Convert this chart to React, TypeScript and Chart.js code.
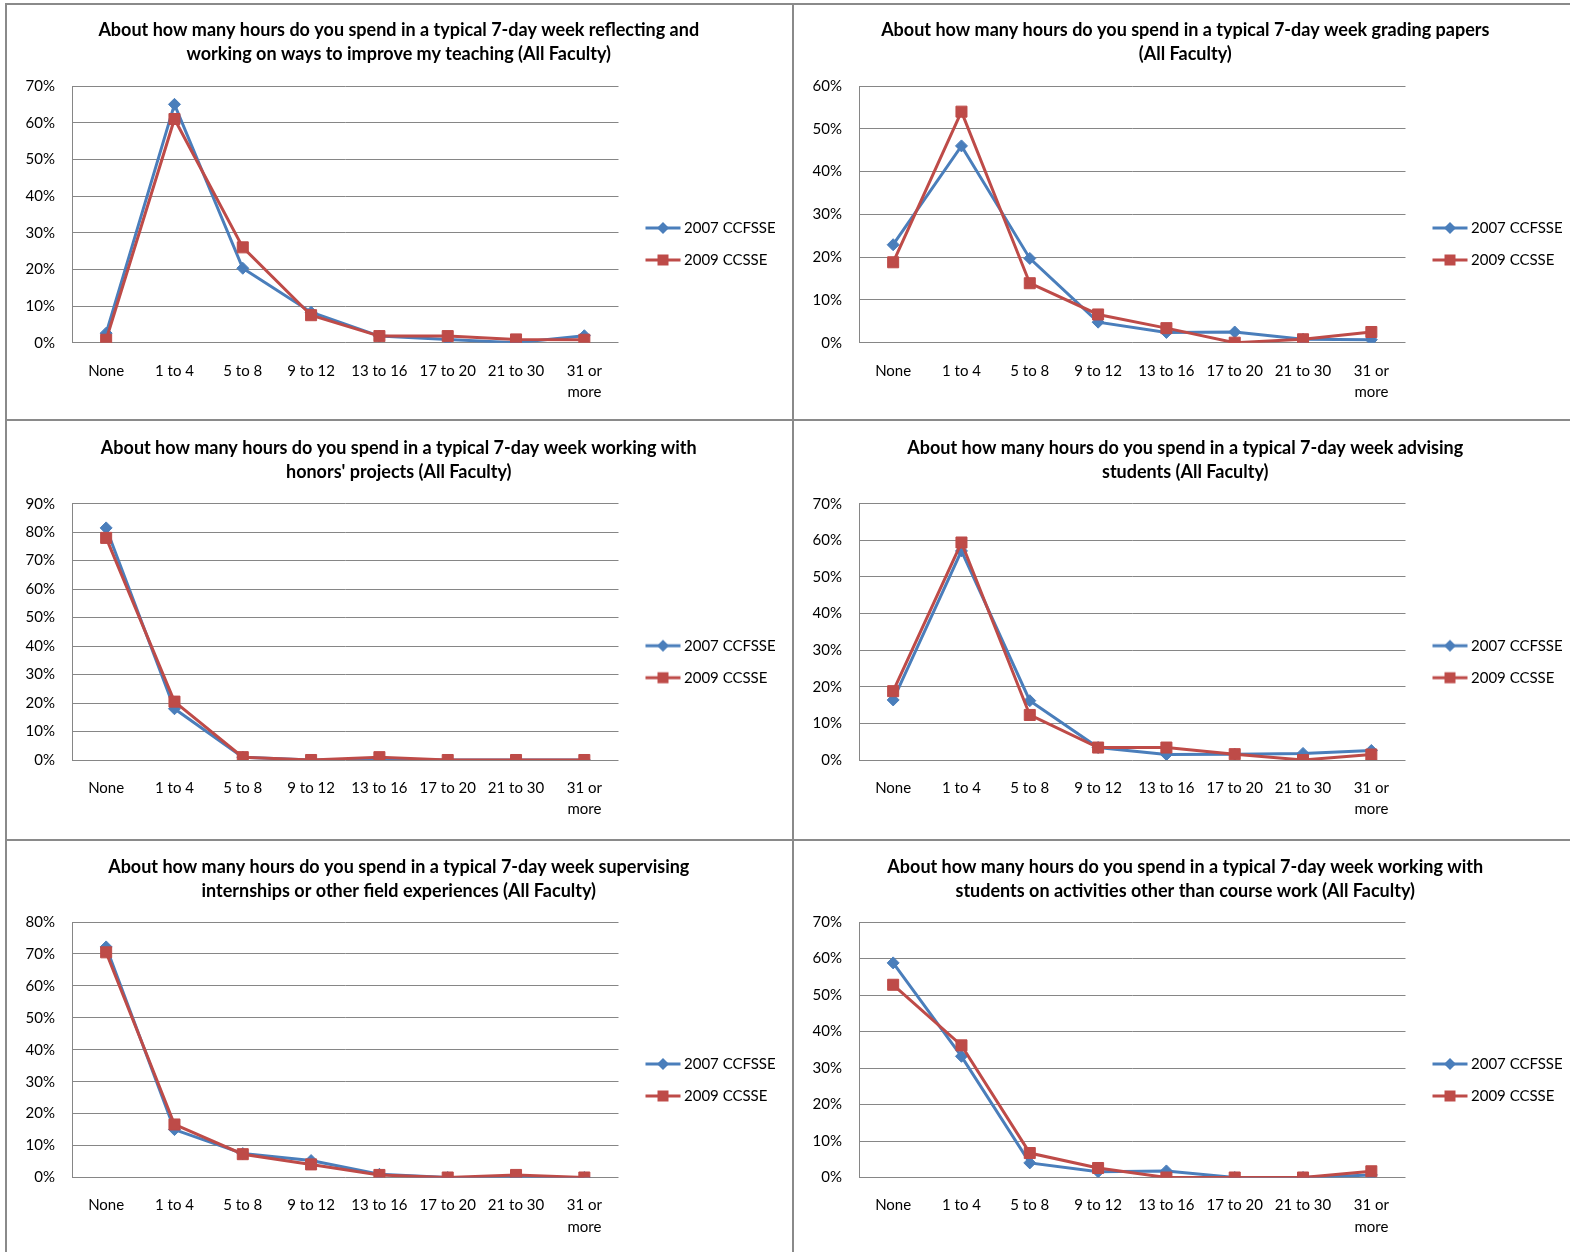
import React, { useEffect, useMemo, useRef } from 'react';
import { Chart, registerables } from 'chart.js';

Chart.register(...registerables);

// ---------- data ----------
const CATEGORIES: (string | string[])[] = ['None', '1 to 4', '5 to 8', '9 to 12', '13 to 16', '17 to 20', '21 to 30', ['31 or', 'more']];
const SERIES_NAMES = ['2007 CCFSSE', '2009 CCSSE'];

const TITLE_REFLECTING = ['About how many hours do you spend in a typical 7-day week reflecting and', 'working on ways to improve my teaching (All Faculty)'];
const TITLE_GRADING = ['About how many hours do you spend in a typical 7-day week grading papers', '(All Faculty)'];
const TITLE_HONORS = ['About how many hours do you spend in a typical 7-day week working with', "honors' projects (All Faculty)"];
const TITLE_ADVISING = ['About how many hours do you spend in a typical 7-day week advising', 'students (All Faculty)'];
const TITLE_INTERNSHIPS = ['About how many hours do you spend in a typical 7-day week supervising', 'internships or other field experiences (All Faculty)'];
const TITLE_ACTIVITIES = ['About how many hours do you spend in a typical 7-day week working with', 'students on activities other than course work (All Faculty)'];

const reflecting2007 = [2.6, 65, 20.3, 8.3, 1.8, 0.9, 0, 1.9];
const reflecting2009 = [0.8, 61, 26, 7.5, 1.8, 1.8, 0.9, 0.8];
const grading2007 = [22.9, 46, 19.7, 4.8, 2.4, 2.5, 0.8, 0.7];
const grading2009 = [18.8, 54, 13.9, 6.6, 3.4, 0, 0.8, 2.5];
const honors2007 = [81.5, 18, 1, 0, 0, 0, 0, 0];
const honors2009 = [78, 20.5, 1, 0, 1, 0, 0, 0];
const advising2007 = [16.4, 57.1, 16.2, 3.4, 1.5, 1.6, 1.8, 2.6];
const advising2009 = [18.8, 59.4, 12.3, 3.4, 3.4, 1.6, 0, 1.5];
const internships2007 = [72.2, 15, 7.5, 5.3, 1, 0, 0, 0];
const internships2009 = [70.5, 16.6, 7.3, 4.1, 0.8, 0, 0.8, 0];
const activities2007 = [58.8, 33.2, 4, 1.6, 1.8, 0, 0, 0.7];
const activities2009 = [52.8, 36.2, 6.7, 2.6, 0, 0, 0, 1.7];

const Y_MAX = [70, 60, 90, 70, 80, 70];
const Y_STEP = 10;

// ---------- style / layout ----------
const BLUE = '#4A7EBB';
const RED = '#BE4B48';
const GRID = '#868686';
const BORDER = '#8a8a8a';
const FONT = 'Lato, "Noto Sans", "DejaVu Sans", sans-serif';
const LEGEND_FONT_SIZE = 15;

// page-coordinate targets per column
const PLOT_LEFT = [72, 859];
const PLOT_RIGHT = [618.5, 1405.5];
const TITLE_CENTER = [398.5, 1185];
// per row
const ROW_TOP = [5, 421, 841];
const ROW_HEIGHT = [414, 418, 411];
const TITLE_PAD_TOP = [13.3, 15.3, 13.7];
const TITLE_PAD_BOTTOM = [19.7, 19.4, 19.3];
const LAYOUT_PAD_BOTTOM = [16.3, 19, 14.5];
const LEGEND_PAD = 17;
const LEGEND_BOX_W = 41;

function makeLegendImage(color: string, style: 'diamond' | 'square'): HTMLCanvasElement {
  const c = document.createElement('canvas');
  c.width = 100;
  c.height = 16;
  const ctx = c.getContext('2d')!;
  ctx.strokeStyle = color;
  ctx.fillStyle = color;
  ctx.lineWidth = 3;
  ctx.beginPath();
  ctx.moveTo(39.5, 8);
  ctx.lineTo(74.5, 8);
  ctx.stroke();
  const cx = 57, cy = 8;
  ctx.beginPath();
  if (style === 'diamond') {
    ctx.moveTo(cx, cy - 6);
    ctx.lineTo(cx + 6, cy);
    ctx.lineTo(cx, cy + 6);
    ctx.lineTo(cx - 6, cy);
    ctx.closePath();
  } else {
    ctx.rect(cx - 5.5, cy - 5.5, 11, 11);
  }
  ctx.fill();
  return c;
}

function legendWidth(): number {
  const c = document.createElement('canvas');
  const ctx = c.getContext('2d')!;
  ctx.font = `normal ${LEGEND_FONT_SIZE}px ${FONT}`;
  const tw = Math.max(...SERIES_NAMES.map((s) => ctx.measureText(s).width));
  return Math.floor(LEGEND_PAD + LEGEND_BOX_W + LEGEND_FONT_SIZE / 2 + tw + 10) - 4;
}

type PanelProps = { title: string[]; a: number[]; b: number[]; max: number; row: number; col: number };

function Panel({ title, a, b, max, row, col }: PanelProps) {
  const ref = useRef<HTMLCanvasElement | null>(null);
  const geom = useMemo(() => {
    const lw = legendWidth();
    const left = Math.round(2 * TITLE_CENTER[col] - PLOT_RIGHT[col] - lw);
    const width = Math.round(PLOT_RIGHT[col] + lw - left);
    const yw = PLOT_LEFT[col] - left;
    const pr = width - (PLOT_RIGHT[col] - left) - lw;
    return { lw, left, width, yw, pr };
  }, [col]);

  useEffect(() => {
    if (!ref.current) return;
    const { lw, yw, pr } = geom;
    const blueImg = makeLegendImage(BLUE, 'diamond');
    const redImg = makeLegendImage(RED, 'square');
    const chart = new Chart(ref.current, {
      type: 'line',
      data: {
        labels: CATEGORIES as any,
        datasets: [
          {
            label: SERIES_NAMES[0], data: a, borderColor: BLUE, backgroundColor: BLUE, borderWidth: 3,
            pointStyle: 'rectRot', pointRadius: 6, pointBackgroundColor: BLUE, pointBorderColor: BLUE,
            pointBorderWidth: 1, tension: 0, order: 1,
          },
          {
            label: SERIES_NAMES[1], data: b, borderColor: RED, backgroundColor: RED, borderWidth: 3,
            pointStyle: 'rect', pointRadius: 7.8, pointBackgroundColor: RED, pointBorderColor: RED,
            pointBorderWidth: 1, tension: 0, order: 0,
          },
        ],
      },
      options: {
        responsive: false,
        animation: false,
        devicePixelRatio: 1,
        layout: {
          padding: { left: 0, top: 0, right: pr, bottom: LAYOUT_PAD_BOTTOM[row] },
        },
        plugins: {
          title: {
            display: true,
            text: title,
            color: '#000',
            font: { family: FONT, size: 18, weight: 'bold', lineHeight: 24 / 18 },
            padding: { top: TITLE_PAD_TOP[row], bottom: TITLE_PAD_BOTTOM[row] },
          },
          legend: {
            display: true,
            position: 'right',
            align: 'start',
            fullSize: false,
            maxWidth: lw,
            title: { display: true, text: ' ', font: { size: 10, lineHeight: 1 }, padding: { top: 107.5, bottom: 0 } },
            labels: {
              usePointStyle: true,
              pointStyleWidth: LEGEND_BOX_W,
              padding: LEGEND_PAD,
              color: '#000',
              font: { family: FONT, size: LEGEND_FONT_SIZE },
              generateLabels: () => [
                { text: SERIES_NAMES[0], fillStyle: BLUE, strokeStyle: BLUE, lineWidth: 0, pointStyle: blueImg, hidden: false, datasetIndex: 0, fontColor: '#000' } as any,
                { text: SERIES_NAMES[1], fillStyle: RED, strokeStyle: RED, lineWidth: 0, pointStyle: redImg, hidden: false, datasetIndex: 1, fontColor: '#000' } as any,
              ],
            },
          },
          tooltip: { enabled: false },
        },
        scales: {
          x: {
            type: 'category',
            offset: true,
            grid: { display: false, drawTicks: false },
            border: { display: false },
            ticks: {
              padding: 17.5,
              autoSkip: false,
              maxRotation: 0,
              color: '#000',
              font: { family: FONT, size: 15, lineHeight: 1.42 },
            },
            afterFit: (s: any) => { s.height = 60; },
          },
          y: {
            min: 0,
            max,
            grid: { color: GRID, lineWidth: 1, drawTicks: false },
            border: { display: true, color: GRID, width: 1 },
            ticks: {
              stepSize: Y_STEP,
              padding: 17,
              color: '#000',
              font: { family: FONT, size: 15 },
              callback: (v: any) => `${v}%`,
            },
            afterFit: (s: any) => { s.width = yw; },
          },
        },
      } as any,
    });
    return () => chart.destroy();
  }, [title, a, b, max, row, col, geom]);

  return (
    <canvas
      ref={ref}
      width={geom.width}
      height={ROW_HEIGHT[row]}
      style={{ position: 'absolute', left: geom.left, top: ROW_TOP[row], width: geom.width, height: ROW_HEIGHT[row] }}
    />
  );
}

const line = (left: number, top: number, width: number, height: number) => (
  <div style={{ position: 'absolute', left, top, width, height, background: BORDER }} />
);

export default function App() {
  return (
    <div style={{ position: 'absolute', left: 0, top: 0, width: 1570, height: 1252, overflow: 'hidden', background: '#fff' }}>
      <Panel title={TITLE_REFLECTING} a={reflecting2007} b={reflecting2009} max={Y_MAX[0]} row={0} col={0} />
      <Panel title={TITLE_GRADING} a={grading2007} b={grading2009} max={Y_MAX[1]} row={0} col={1} />
      <Panel title={TITLE_HONORS} a={honors2007} b={honors2009} max={Y_MAX[2]} row={1} col={0} />
      <Panel title={TITLE_ADVISING} a={advising2007} b={advising2009} max={Y_MAX[3]} row={1} col={1} />
      <Panel title={TITLE_INTERNSHIPS} a={internships2007} b={internships2009} max={Y_MAX[4]} row={2} col={0} />
      <Panel title={TITLE_ACTIVITIES} a={activities2007} b={activities2009} max={Y_MAX[5]} row={2} col={1} />
      {line(5, 3, 1565, 2)}
      {line(5, 3, 2, 1249)}
      {line(792, 3, 2, 1249)}
      {line(5, 419, 1565, 2)}
      {line(5, 839, 1565, 2)}
    </div>
  );
}
